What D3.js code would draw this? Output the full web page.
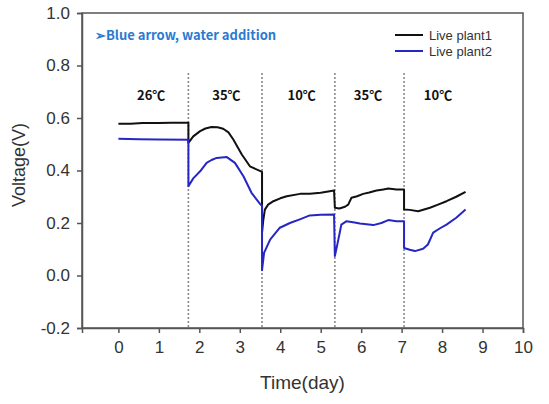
<!DOCTYPE html>
<html><head><meta charset="utf-8">
<script src="https://cdn.jsdelivr.net/npm/d3@7"></script>
<style>body{margin:0;background:#fff}svg{display:block}</style>
</head><body><div id="chart"></div>
<script>
// ---- data ----
const xTicks = [0,1,2,3,4,5,6,7,8,9,10];
const yTicks = [-0.2,0.0,0.2,0.4,0.6,0.8,1.0];
const dividerDays = [1.73, 3.55, 5.35, 7.06];
const tempLabels = ["26\u2103","35\u2103","10\u2103","35\u2103","10\u2103"];
const tempLabelDays = [0.81, 2.67, 4.53, 6.17, 7.9];
const seriesNames = ["Live plant1","Live plant2"];
const plant1Days = [0,0.3,0.6,1.0,1.3,1.73,1.73,1.85,2.02,2.15,2.3,2.45,2.59,2.72,2.84,3.05,3.25,3.4,3.55,3.55,3.58,3.62,3.7,3.83,4.0,4.16,4.49,4.73,5.0,5.33,5.35,5.46,5.6,5.68,5.76,5.9,6.05,6.2,6.38,6.55,6.67,6.87,7.06,7.06,7.2,7.41,7.7,7.9,8.11,8.35,8.58];
const plant1Volt = [0.578,0.578,0.581,0.581,0.582,0.582,0.505,0.53,0.55,0.56,0.566,0.565,0.559,0.545,0.518,0.461,0.416,0.405,0.395,0.164,0.21,0.251,0.27,0.283,0.294,0.302,0.311,0.311,0.315,0.324,0.258,0.255,0.262,0.27,0.296,0.302,0.311,0.316,0.324,0.328,0.331,0.328,0.328,0.251,0.25,0.245,0.258,0.27,0.283,0.3,0.319];
const plant2Days = [0,0.5,1.0,1.73,1.73,1.85,2.02,2.18,2.3,2.43,2.68,2.88,3.09,3.29,3.5,3.55,3.55,3.6,3.75,3.99,4.24,4.5,4.73,5.0,5.33,5.35,5.4,5.47,5.51,5.64,5.8,5.97,6.3,6.5,6.67,6.87,7.06,7.06,7.2,7.33,7.53,7.65,7.78,7.95,8.11,8.35,8.58];
const plant2Volt = [0.521,0.519,0.518,0.517,0.34,0.37,0.397,0.429,0.44,0.448,0.451,0.429,0.378,0.315,0.273,0.265,0.02,0.086,0.137,0.182,0.2,0.215,0.229,0.231,0.232,0.074,0.11,0.163,0.194,0.207,0.203,0.198,0.192,0.2,0.211,0.207,0.207,0.105,0.098,0.093,0.102,0.118,0.163,0.18,0.194,0.22,0.251];
const annotation = "\u27A2Blue arrow, water addition";

// ---- layout ----
const W = 549, H = 404;
const m = {left:82, top:13, right:W-523, bottom:H-328};
const svg = d3.select("#chart").append("svg").attr("width",W).attr("height",H);
const x = d3.scaleLinear().domain([-0.9,10]).range([m.left, W-m.right]);
const y = d3.scaleLinear().domain([-0.2,1.0]).range([H-m.bottom, m.top]);
const axisColor = "#555";

// frame
svg.append("rect").attr("x",x(-0.9)).attr("y",y(1.0))
  .attr("width",x(10)-x(-0.9)).attr("height",y(-0.2)-y(1.0))
  .attr("fill","none").attr("stroke",axisColor).attr("stroke-width",1.5);

// axes
const xAxis = svg.append("g").attr("transform",`translate(0,${y(-0.2)})`)
  .call(d3.axisBottom(x).tickValues(xTicks).tickFormat(d3.format("d")).tickSize(5).tickPadding(8));
const yAxis = svg.append("g").attr("transform",`translate(${x(-0.9)},0)`)
  .call(d3.axisLeft(y).tickValues(yTicks).tickFormat(d=>d.toFixed(1)).tickSize(5).tickPadding(7));
[xAxis,yAxis].forEach(a=>{
  a.select(".domain").attr("stroke",axisColor).attr("stroke-width",1.5);
  a.selectAll(".tick line").attr("stroke",axisColor).attr("stroke-width",1.5);
  a.selectAll(".tick text").attr("fill","#333").style("font-family","'Liberation Sans',Arial,sans-serif").style("font-size","17px");
});

// dividers
svg.selectAll("line.div").data(dividerDays).enter().append("line")
  .attr("x1",d=>x(d)).attr("x2",d=>x(d)).attr("y1",73).attr("y2",y(-0.2))
  .attr("stroke","#8a8a8a").attr("stroke-width",1.6).attr("stroke-dasharray","2,2");

// temperature labels
svg.selectAll("text.temp").data(tempLabels).enter().append("text")
  .attr("x",(d,i)=>x(tempLabelDays[i])).attr("y",100).attr("text-anchor","middle")
  .style("font-family","'Noto Sans CJK KR','Noto Sans',sans-serif").style("font-weight","bold")
  .style("font-size","13px").attr("fill","#111").text(d=>d);

// lines
const line = d3.line().x(d=>x(d[0])).y(d=>y(d[1]));
const colors = ["#111111","#2626c4"];
const data = [d3.zip(plant1Days,plant1Volt), d3.zip(plant2Days,plant2Volt)];
data.forEach((d,i)=>{
  svg.append("path").datum(d).attr("d",line).attr("fill","none")
    .attr("stroke",colors[i]).attr("stroke-width",2).attr("stroke-linejoin","round");
});

// legend
seriesNames.forEach((n,i)=>{
  const ly = 35 + i*16;
  svg.append("line").attr("x1",395).attr("x2",423).attr("y1",ly).attr("y2",ly)
    .attr("stroke",colors[i]).attr("stroke-width",2);
  svg.append("text").attr("x",429).attr("y",ly+4.5).text(n)
    .style("font-family","'Liberation Sans',Arial,sans-serif").style("font-size","13px").attr("fill","#333");
});

// annotation
svg.append("text").attr("x",95).attr("y",40).text(annotation)
  .style("font-family","'Noto Sans CJK KR','Noto Sans',sans-serif").style("font-weight","bold")
  .style("font-size","13px").attr("fill","#2a7ad2");

// axis titles
svg.append("text").attr("x",(x(-0.9)+x(10))/2).attr("y",389).attr("text-anchor","middle")
  .style("font-family","'Liberation Sans',Arial,sans-serif").style("font-size","19px").attr("fill","#333").text("Time(day)");
svg.append("text").attr("transform","translate(25,165) rotate(-90)").attr("text-anchor","middle")
  .style("font-family","'Liberation Sans',Arial,sans-serif").style("font-size","18px").attr("fill","#333").text("Voltage(V)");
</script></body></html>
